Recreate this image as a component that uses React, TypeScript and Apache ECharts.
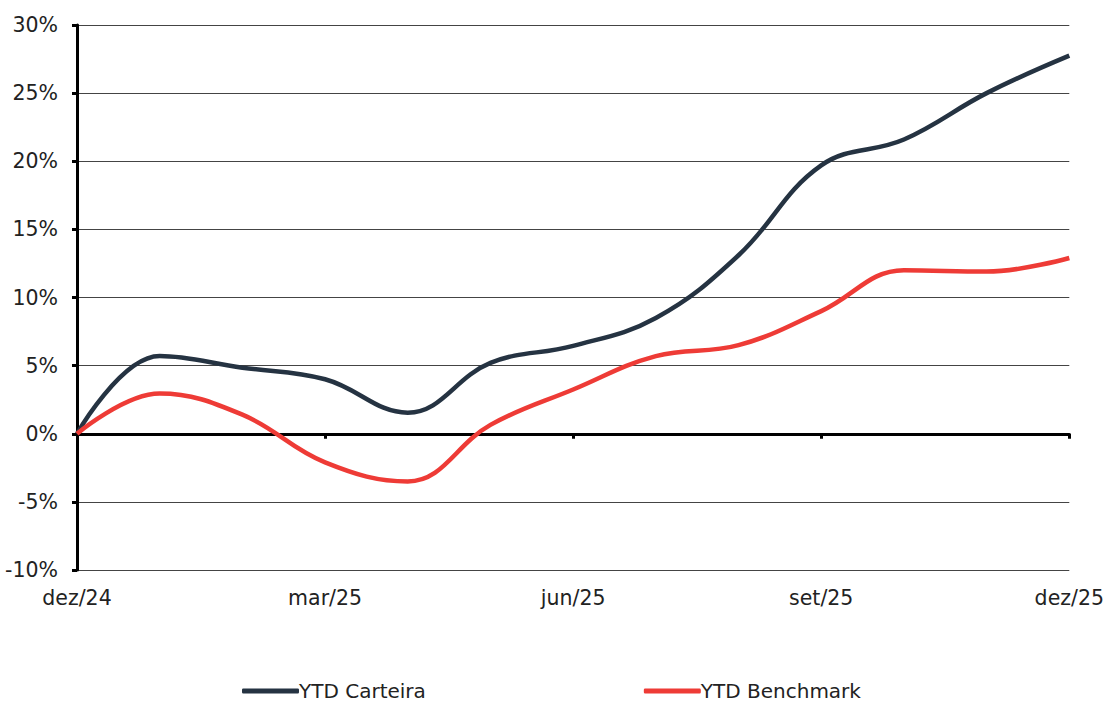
import React, { useEffect, useRef } from "react";
import * as echarts from "echarts";

const months = [0, 1, 2, 3, 4, 5, 6, 7, 8, 9, 10, 11, 12];
const tickLabels: Record<number, string> = { 0: "dez/24", 3: "mar/25", 6: "jun/25", 9: "set/25", 12: "dez/25" };
const carteira = [0, 5.7, 4.85, 4.0, 1.55, 5.2, 6.45, 8.5, 13.1, 19.7, 21.6, 25.0, 27.75];
const benchmark = [0, 2.95, 1.4, -2.1, -3.5, 0.65, 3.25, 5.7, 6.5, 9.0, 12.0, 11.9, 12.9];

const FONT = "'DejaVu Sans', sans-serif";

export default function App() {
  const ref = useRef<HTMLDivElement>(null);
  useEffect(() => {
    if (!ref.current) return;
    const chart = echarts.init(ref.current, undefined, { renderer: "svg" });
    chart.setOption({
      animation: false,
      textStyle: { fontFamily: FONT },
      grid: { left: 77, right: 37, top: 25, bottom: 132, containLabel: false },
      legend: {
        top: 680,
        left: 242,
        padding: 0,
        itemGap: 218,
        itemWidth: 57,
        itemHeight: 5,
        icon: "roundRect",
        textStyle: { fontSize: 20, color: "#222", fontFamily: FONT, padding: [0, 0, 0, -5], lineHeight: 22 },
        data: ["YTD Carteira", "YTD Benchmark"],
      },
      xAxis: [
        {
          type: "value",
          min: 0,
          max: 12,
          interval: 3,
          axisLine: { show: false, onZero: false },
          axisTick: { show: false },
          splitLine: { show: false },
          axisLabel: {
            margin: 17,
            fontSize: 20.5,
            color: "#222",
            formatter: (v: number) => tickLabels[v] ?? "",
          },
        },
        {
          type: "value",
          min: 0,
          max: 12,
          interval: 3,
          position: "bottom",
          axisLine: { show: true, onZero: true, lineStyle: { color: "#000", width: 3 } },
          axisTick: { show: true, length: 5, lineStyle: { color: "#000", width: 3 } },
          splitLine: { show: false },
          axisLabel: { show: false },
        },
      ],
      yAxis: {
        type: "value",
        min: -10,
        max: 30,
        interval: 5,
        axisLine: { show: true, onZero: false, lineStyle: { color: "#000", width: 3 } },
        axisTick: { show: true, length: 5, lineStyle: { color: "#000", width: 3 } },
        splitLine: { show: true, lineStyle: { color: "#444", width: 1 } },
        axisLabel: { margin: 19, fontSize: 20.5, color: "#222", formatter: (v: number) => `${v}%` },
      },
      series: [
        {
          name: "YTD Carteira",
          type: "line",
          smooth: 0.4,
          showSymbol: false,
          symbol: "none",
          data: months.map((m, i) => [m, carteira[i]]),
          lineStyle: { color: "#253342", width: 4.5 },
          itemStyle: { color: "#253342" },
          z: 3,
        },
        {
          name: "YTD Benchmark",
          type: "line",
          smooth: 0.4,
          showSymbol: false,
          symbol: "none",
          data: months.map((m, i) => [m, benchmark[i]]),
          lineStyle: { color: "#EE3B36", width: 4.5 },
          itemStyle: { color: "#EE3B36" },
          z: 4,
        },
      ],
    });
    return () => chart.dispose();
  }, []);
  return <div ref={ref} style={{ position: "absolute", left: 0, top: 0, width: 1107, height: 702 }} />;
}
